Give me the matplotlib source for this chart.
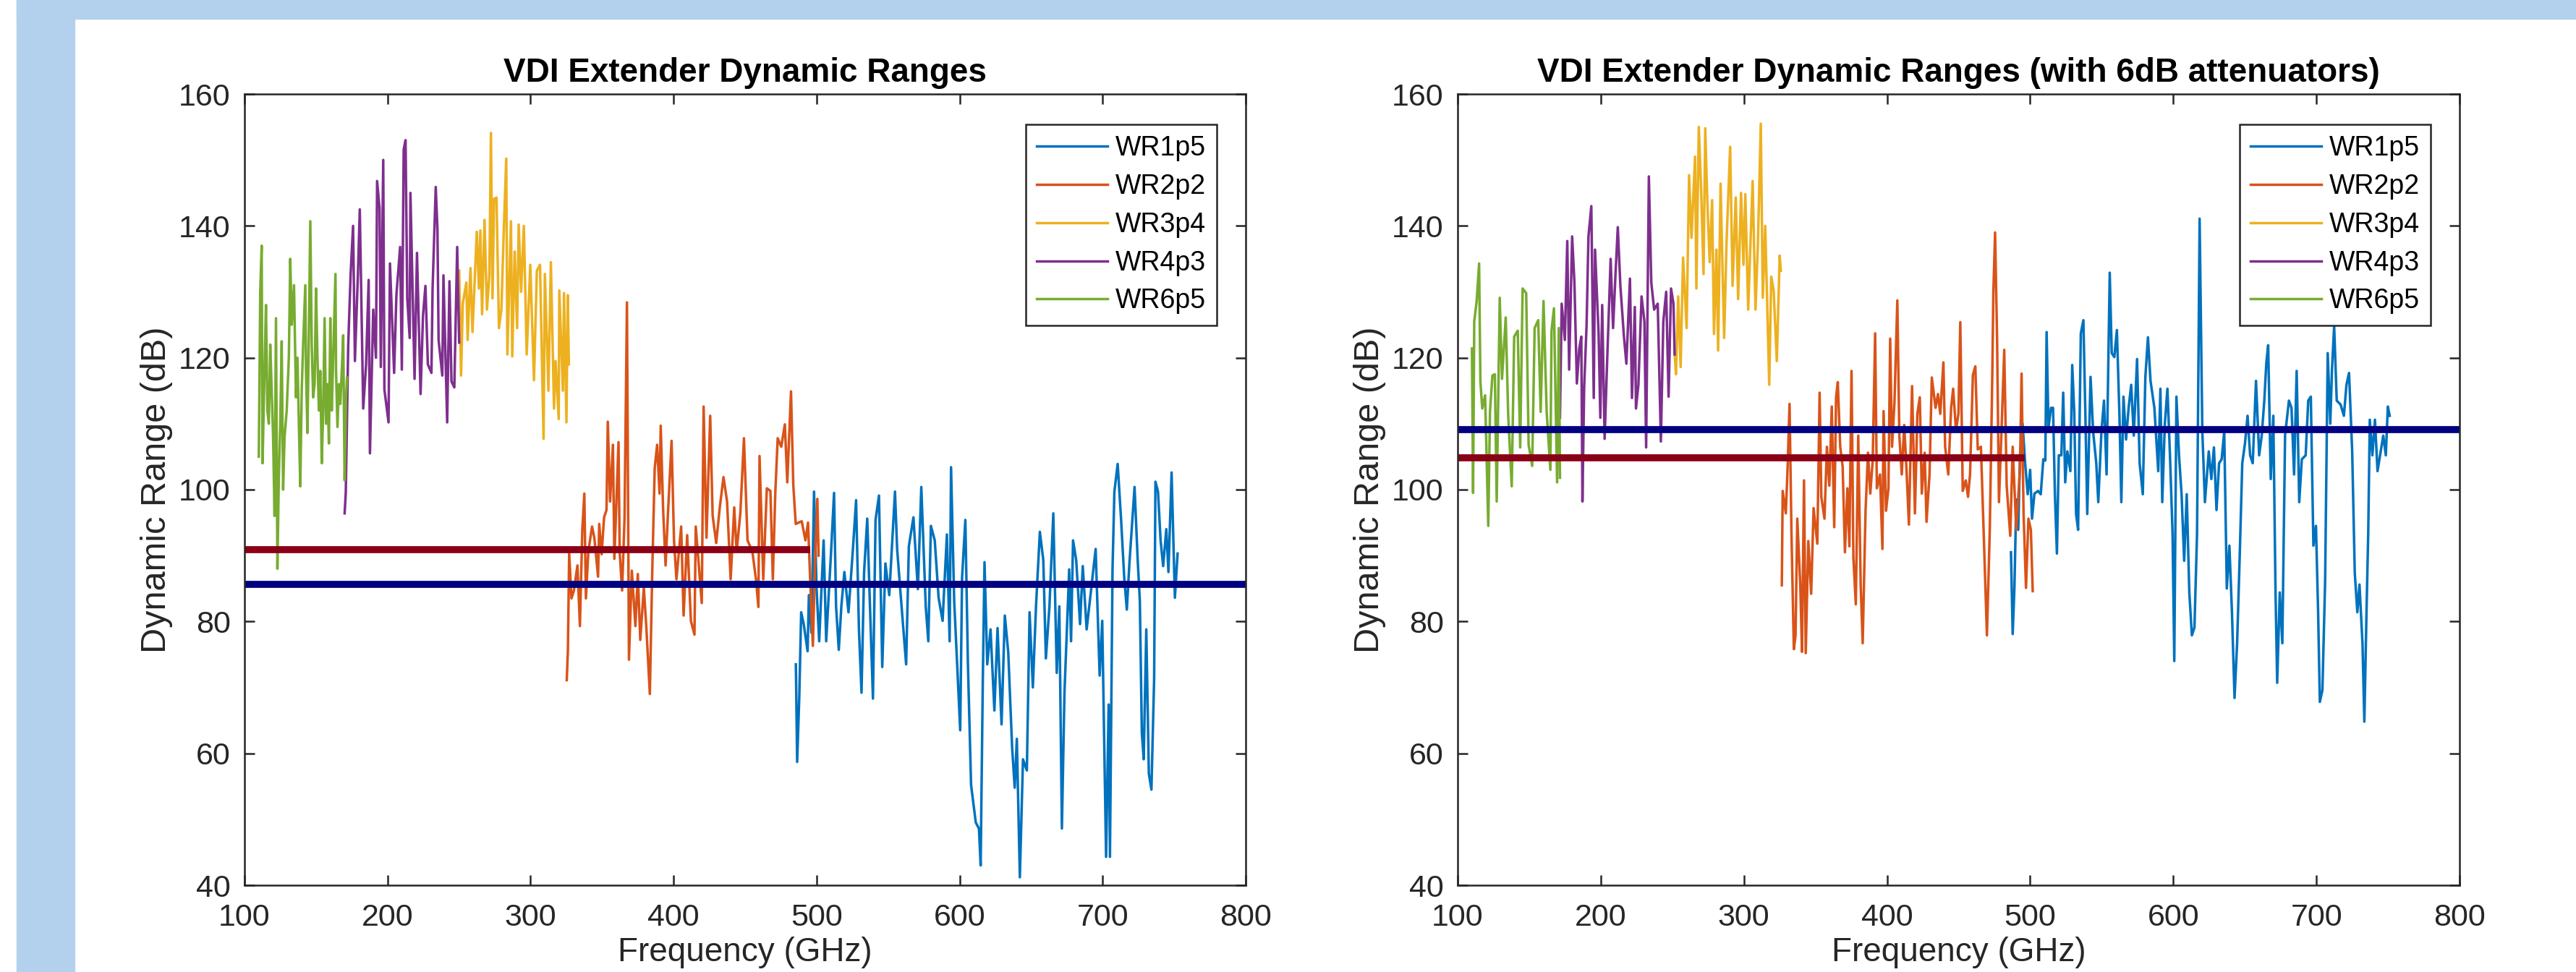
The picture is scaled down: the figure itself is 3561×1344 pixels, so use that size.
import numpy as np
import matplotlib.pyplot as plt
from matplotlib.patches import Rectangle

plt.rcParams['font.family'] = ['Liberation Sans', 'DejaVu Sans']

# ---- left panel: (GHz, dB) ----
wr6p5_a = [(110, 105), (111, 130), (112, 137), (112.6, 104), (114, 118), (115, 128), (116, 112), (117, 110),
           (118, 122), (119, 115), (120, 108), (121, 96), (122, 126), (123, 88), (124, 102), (125, 110),
           (126, 122.5), (127, 100), (128, 108), (129.5, 112), (131, 120), (132, 135), (133, 125), (134.6, 131),
           (136, 114), (137, 120), (138, 110), (139, 100.5), (140, 115), (141, 122), (142.5, 131), (143, 118),
           (144, 108.6), (145, 124), (146, 140.7), (147, 122), (148, 114), (149, 116), (150, 130.5), (151, 120),
           (152, 112), (153, 118), (154, 104), (155, 112), (156, 126), (157, 110), (158, 116), (159, 107),
           (160, 126), (161, 112), (162, 120), (163.6, 132.7), (164, 118), (165, 109.5), (166, 116), (167, 113),
           (168, 118), (169, 123.4), (170, 101.4), (171, 114), (171.7, 117)]

wr4p3_a = [(170, 96.4), (170.8, 99.5), (172.5, 121.8), (174.2, 132.7), (175.9, 140), (177.2, 119.5), (179.3, 132.7),
           (180.6, 142.5), (183, 112.3), (185, 119), (186.8, 131.8), (187.7, 105.5), (190, 127.3), (191.9, 120),
           (192.7, 146.8), (194.4, 142.7), (195.3, 118.6), (197, 150), (197.8, 115.2), (200.7, 110.2),
           (201.7, 134.3), (204.6, 117.7), (206.2, 129.5), (208.8, 136.8), (210, 118.2), (211.3, 151.6),
           (212.6, 153), (213.8, 129), (215.5, 123), (216, 145), (218.9, 116.8), (220.6, 135.9), (223.1, 114.5),
           (224.8, 126.4), (226.5, 130.9), (228.2, 119), (230.7, 117.7), (231.5, 130.5), (233.7, 145.9),
           (234.9, 139.5), (235.7, 122.7), (238.3, 117.3), (239.1, 132.5), (241.7, 110.2), (243.3, 131.6),
           (244.7, 116.4), (246.7, 115.5), (248.7, 136.8), (250.1, 122.3)]

wr3p4_a = [(250.1, 133.2), (251.4, 117.3), (252.6, 128.2), (255.1, 131.4), (256, 122.7), (258, 133.6), (259.4, 123.9),
           (262.4, 139.1), (263.9, 130.5), (264.9, 139.3), (266.1, 126.6), (267.8, 140.9), (269.5, 127.3),
           (271.2, 132.5), (272.3, 154.1), (273.4, 129), (274.5, 144.1), (276.2, 144.3), (277.9, 124.5),
           (279.6, 127.3), (281.3, 139.5), (283, 150.2), (283.8, 120.5), (286.3, 140.7), (287.2, 120.2),
           (288.9, 136.1), (290.6, 124.5), (291.7, 140.2), (293.4, 130), (295.3, 140), (297.3, 120.5),
           (299.8, 134.1), (302.4, 116.6), (304.4, 133.2), (306.6, 134.1), (309.1, 107.7), (310, 132.7),
           (312.5, 115), (314.2, 134.5), (316.4, 112.3), (317.5, 119.5), (319.7, 110.7), (320.1, 130.2),
           (322.6, 115), (323.4, 129.8), (325.1, 110.2), (326, 129.5), (326.8, 119)]

wr2p2_a = [(325.3, 71.1), (326.1, 75.5), (327, 90.4), (328.6, 83.5), (330.3, 84.7), (332.8, 88.5), (334.5, 79.3),
           (336.2, 94), (337.6, 99.4), (338.7, 83.5), (340.4, 90.6), (343, 94.4), (344.6, 92.7), (347.2, 86.8),
           (348, 94.8), (349.7, 90.2), (351.4, 95.8), (353.1, 96.9), (354, 110.3), (355.6, 98.2), (357.6, 106.8),
           (358.6, 89.5), (361.5, 107.2), (362.3, 90.6), (364, 84.7), (365.7, 95.6), (367.4, 128.4), (368.8, 74.2),
           (370.8, 87.7), (373.3, 79.3), (375, 87.2), (376.7, 77.2), (379.2, 85.1), (380.9, 79.3), (383.4, 69),
           (385.1, 87.7), (386.8, 103.2), (388.5, 106.8), (390.2, 99.4), (391, 109.7), (392.7, 96.9), (394.4, 88.5),
           (396.1, 96.5), (398.6, 107.4), (400.3, 92.3), (402, 86.4), (405.3, 94.4), (407, 80.9), (409.5, 93.1),
           (412.1, 80.1), (414.6, 78), (415.5, 94.4), (419.7, 82.8), (421, 112.6), (423, 92.7), (425.6, 111.2),
           (427.3, 96.1), (429.8, 91.9), (432.3, 97.3), (434.9, 101.9), (437.4, 98.2), (439.9, 86.4), (442.4, 97.3),
           (444.1, 90.6), (446.7, 96.5), (449.2, 107.8), (451.7, 92.3), (455.1, 90.6), (457.6, 86.4), (459.3, 82.2),
           (460.1, 105.1), (462.7, 86.4), (465.2, 100.2), (467.7, 99.8), (469.4, 86.4), (471.1, 99.4),
           (472.8, 107.8), (475.3, 106.5), (477.8, 109.9), (479.5, 101.1), (482.1, 114.9), (483.7, 100.7),
           (485.4, 94.8), (489.6, 95.2), (492.2, 92.3), (494, 95), (495.5, 86.4), (497.4, 76.3), (499, 89.8),
           (500.5, 98.6), (501.4, 90)]

wr1p5_a = [(485.5, 73.5), (486.4, 58.7), (487.9, 68.7), (489.2, 81.4), (491, 79.6), (493.7, 75.5), (494.6, 84),
           (496.4, 78.3), (498.2, 99.7), (500, 84.9), (501.8, 77), (504.9, 92.3), (506.7, 77), (510, 90.1),
           (512.2, 99.5), (513.6, 82.3), (515.5, 75.7), (517.3, 82.3), (519.4, 87.5), (522.3, 81.4), (525.4, 91),
           (527.6, 98.4), (529.6, 78.8), (531.4, 69.2), (533.2, 87.5), (535.4, 95.6), (537.2, 83.1), (539.4, 68.3),
           (541.2, 95.4), (543.6, 99.1), (545.9, 73.1), (548.1, 88.8), (550.8, 84), (554.8, 99.7), (556.3, 91),
           (559.4, 82.3), (562.6, 73.5), (564.5, 91.4), (567.7, 95.8), (570.8, 84.9), (573.2, 100.4), (576.3, 82.3),
           (578.1, 77), (579.9, 94.5), (582.6, 92.3), (585.3, 83.6), (588.1, 80.1), (591.1, 93.2), (593, 77),
           (594, 103.4), (596.2, 83.1), (600.4, 63.5), (601.7, 86.6), (604, 95.4), (605.8, 73.5), (608, 55.2),
           (611.3, 49.5), (613.5, 48.6), (614.7, 43), (616.2, 70.9), (617.4, 89), (619.3, 73.5), (621.6, 78.8),
           (624.3, 66.5), (626.5, 79), (629.3, 64.4), (631.6, 80.9), (634, 75.3), (636.7, 60.9), (638.5, 54.8),
           (640, 62.2), (642.1, 41.2), (644.3, 59.1), (647, 57.4), (648.9, 81.4), (651.2, 70), (653.4, 82.3),
           (656.1, 93.6), (658.5, 89.3), (660.3, 74.4), (662.8, 82.3), (665.5, 96.4), (667.9, 72.2), (669.7, 82.3),
           (671.5, 48.6), (673.3, 69.2), (676.6, 87.9), (677.9, 77), (679.3, 92.3), (681.5, 89.3), (684.2, 79.6),
           (686.1, 88.4), (688.8, 78.8), (691.5, 84), (695.1, 91), (697.9, 71.8), (699.7, 80.1), (702.4, 44.3),
           (704.2, 67.4), (705.1, 44.3), (706.9, 87.9), (708.2, 99.7), (710.5, 103.9), (712.9, 95.4), (715.1, 86.6),
           (716.9, 81.8), (718.7, 88.8), (722.3, 100.4), (724.5, 89.3), (726, 83.1), (727.4, 63.1), (728.7, 59.1),
           (730.5, 78.8), (732.3, 56.9), (734.1, 54.5), (736, 71.4), (736.9, 101.2), (738.7, 99.7), (740.5, 92.3),
           (742.3, 88.4), (744.5, 94), (746, 87.5), (748.2, 102.6), (750.5, 83.6), (752.4, 90.3)]

# ---- right panel (with 6dB attenuators) ----
wr6p5_b = [(110, 121.4), (110.8, 99.5), (111.6, 125.5), (113.3, 128.6), (115, 134.3), (115.9, 116.4), (117.2, 112.3),
           (119.2, 114.3), (121.4, 94.5), (122.6, 111.8), (124.3, 117.3), (126, 117.5), (127.3, 98.2), (129.4, 129.1),
           (131, 116.8), (133.6, 126.1), (135.3, 111.4), (137.8, 100.5), (139.5, 123.2), (142, 124.1), (143.7, 106.4),
           (145.4, 130.5), (147.9, 129.8), (149.6, 106.8), (152.1, 103.6), (153.8, 124.5), (156.3, 125.7),
           (158, 111.8), (160, 128.6), (162.2, 111.8), (164.8, 103), (165.6, 124.1), (167.3, 127.5), (169.5, 101.1),
           (170.7, 124.5), (171.5, 101.8)]

wr4p3_b = [(171.5, 110.9), (172.7, 128.2), (174.9, 122.7), (176.6, 137.7), (177.9, 118.2), (180, 138.4), (181.6, 131.4),
           (183.3, 116.1), (185, 121.4), (186.4, 123.2), (187.2, 98.2), (188.4, 115.5), (190.1, 125), (191.4, 138.4),
           (193.4, 143), (195.1, 113.9), (196, 136.4), (198.5, 123.6), (199.7, 110.9), (201, 128), (202.7, 107.7),
           (204.4, 119.1), (206.9, 135), (208.6, 124.5), (210.3, 132.7), (211.9, 139.8), (213.7, 130.9),
           (216.2, 123.2), (217.9, 119.1), (220.4, 132), (221.8, 113.9), (223.8, 127.7), (224.6, 112.3),
           (226.3, 115.9), (228.5, 129.3), (230.5, 125.5), (231.7, 106.4), (233.6, 147.5), (235.3, 131.4),
           (237.3, 127.3), (239.8, 128.2), (242, 107.3), (243.7, 125.5), (245.7, 130), (247.4, 114.1),
           (249.1, 130.5), (250.8, 128.2), (251.6, 120.5)]

wr3p4_b = [(251.6, 120.9), (252.5, 117.5), (254.1, 129.3), (255.8, 118.6), (257.5, 135.2), (260, 124.5), (261.7, 147.7),
           (263.4, 138.2), (265.9, 150.5), (266.8, 130.5), (268.5, 155), (270.2, 145), (271.8, 132.7), (273, 154.8),
           (274.4, 144.1), (276.1, 134.5), (277.8, 143.9), (279.1, 123.6), (280.8, 136.4), (282, 121.1),
           (283.7, 146.4), (286.2, 123), (287.9, 137.7), (290.4, 152), (292.1, 130.9), (294.3, 144.3), (296, 128.9),
           (298, 145), (299.7, 134.1), (301, 144.8), (303, 127.3), (306.1, 146.8), (308.1, 127.3), (309.8, 137.3),
           (311.8, 155.5), (313.2, 129.1), (314.9, 140), (317.7, 115.9), (319.1, 132.3), (320.8, 130.2),
           (323, 119.5), (325, 135.5), (325.8, 133.2)]

wr2p2_b = [(326.5, 85.5), (327.1, 99.8), (329.3, 96.4), (330.5, 103.1), (331.9, 113), (333.2, 93.9), (334.9, 75.8),
           (336.1, 77.9), (337.3, 95.6), (339.4, 85.5), (340.6, 75.4), (342, 101.4), (343.2, 75.2), (345, 92.2),
           (347, 84.2), (348.7, 97.2), (351.3, 91.8), (352.9, 114.7), (354.1, 98.9), (356.3, 95.6), (358, 106.5),
           (359.7, 100.6), (361.4, 112.6), (363.1, 94.3), (364.4, 114), (365.6, 116.3), (367.3, 106.5),
           (369, 103.5), (370.6, 90.5), (372.3, 100.2), (373.7, 91.4), (375.2, 118), (376.5, 89.7), (378.2, 82.6),
           (379.9, 108.2), (381.6, 85.5), (383, 76.7), (385, 96.8), (386.7, 105.6), (388.3, 99.4), (390, 104.4),
           (391.7, 123.7), (392.9, 100.2), (395.1, 102.3), (396.8, 91), (397.6, 111.9), (399.3, 96.8),
           (401, 100.2), (402.2, 122.9), (403.5, 106.5), (405.2, 113.2), (407.2, 128.7), (408.6, 108.2),
           (410.3, 102.3), (412, 109.8), (413.6, 103.1), (415.3, 94.7), (417.5, 115.7), (419.5, 96.4),
           (421.2, 111.5), (422.9, 114), (424.3, 99.4), (426.3, 105.6), (427.6, 95.1), (429.7, 102.3), (431.3, 117),
           (433.9, 112.4), (435.6, 114.5), (437.2, 111.5), (439.4, 119.3), (440.6, 106.5), (442.8, 102.3),
           (444.8, 112.4), (446.2, 115.3), (448.2, 109), (449.9, 111.5), (451.2, 125.4), (452.9, 99.8),
           (455, 101.4), (456.6, 98.9), (458, 102.3), (460, 117.4), (461.7, 118.7), (463.4, 106.1), (465.6, 106.5),
           (467.6, 93), (469.8, 77.9), (471.8, 93.9), (473.5, 116.6), (474.3, 130), (475.5, 139), (476.9, 122.9),
           (478.2, 98.1), (480.2, 110.3), (481.9, 121.2), (483.6, 100.6), (486.1, 93), (487.8, 106.5),
           (490.3, 93.9), (492.9, 103.1), (494, 117.6), (495.4, 96.4), (497.1, 85.1), (498.8, 95.6), (500.5, 93.9),
           (501.8, 84.6)]

wr1p5_b = [(486.6, 90.5), (487.8, 78.1), (489, 85), (490.3, 98.5), (491.7, 93.9), (492.9, 105.2), (494.7, 110),
           (496.5, 104), (498.3, 99.3), (500, 103), (501.3, 95.6), (503, 99.4), (505.5, 99.8), (507.4, 99.3),
           (509.2, 104.6), (510.6, 104.4), (511.5, 123.9), (512.8, 109.4), (514.6, 112.4), (516, 112.4),
           (517.3, 99.3), (518.7, 90.3), (520, 105.2), (521.8, 105.2), (523.1, 114.7), (524.5, 101.1),
           (526, 105.8), (528.1, 102.8), (529.4, 118.9), (530.8, 111.8), (532.1, 96.3), (533.5, 93.9),
           (535.4, 123.7), (537.2, 125.7), (538.6, 111.2), (539.9, 96.3), (542.2, 117.1), (544, 108.8),
           (546.2, 104), (547.6, 98.1), (549.8, 108.8), (551.6, 113.5), (553.4, 102.3), (555.6, 132.9),
           (557, 120.7), (558.8, 120.1), (560.6, 124.2), (562.4, 111.2), (563.7, 98.1), (565.2, 114.1),
           (567, 107.6), (568.8, 112.4), (570.6, 115.9), (572.4, 108.2), (574.7, 119.8), (576.5, 104),
           (578.7, 99.3), (580.5, 117.1), (582.3, 123.1), (584.1, 116.5), (586.8, 112.4), (589.5, 102.8),
           (591, 115.3), (592.3, 98.1), (594.1, 110), (595.9, 115.3), (597.7, 105.2), (599.5, 93.3), (600.7, 74),
           (602.2, 114.1), (604, 105.2), (605.8, 99.3), (607.6, 89.2), (609.4, 99.3), (611.2, 84.4), (613, 77.9),
           (614.8, 79.1), (616.6, 93.3), (618.4, 141.1), (620.3, 108.8), (622.1, 98.1), (624.8, 105.8),
           (626.6, 101.6), (628.4, 106.4), (630.2, 96.9), (632, 104), (633.8, 104.6), (635.6, 108.8), (637.4, 85),
           (639.2, 91.5), (641, 81.4), (642.8, 68.4), (644.6, 76.7), (646.4, 89.8), (648.2, 104), (650.1, 107),
           (651.9, 111.2), (653.7, 105.2), (655.5, 104), (657.8, 116.5), (660, 105.2), (661.8, 108.2),
           (663.6, 113.5), (665, 119.2), (666.3, 121.9), (668.1, 101.6), (669.9, 111.2), (671.4, 85), (672.6, 70.7),
           (674.4, 84.4), (676.2, 76.7), (678.1, 108.2), (680.8, 113.5), (682.6, 112.4), (684.4, 102.3),
           (686.2, 118), (688, 98.1), (689.8, 104.6), (692.5, 105.2), (694.3, 113.5), (696.1, 114.1), (697.9, 91.5),
           (699.7, 94.5), (701.2, 81.4), (702.4, 67.8), (704.2, 69.6), (706.1, 86.2), (707.9, 120.7), (709.7, 110),
           (710.9, 118.3), (712.4, 124.8), (714.2, 113.5), (716.9, 112.9), (719.2, 111.2), (721, 115.9),
           (722.8, 117.7), (725, 105.8), (726.8, 87.4), (728.6, 81.4), (730.1, 85.6), (732.2, 76.7), (733.5, 64.8),
           (735, 81.4), (736.2, 93.3), (737.3, 110.6), (739.1, 105.2), (740.9, 110.6), (742.7, 102.8),
           (744.5, 105.2), (746.7, 108.2), (748.5, 105.2), (749.9, 112.6), (751.2, 111.2)]

# horizontal reference levels: (dB, end GHz)
limit_a = [(90.9, 495.5), (85.6, 800)]
limit_b = [(104.8, 496), (109.1, 800)]

names = ['WR1p5', 'WR2p2', 'WR3p4', 'WR4p3', 'WR6p5']
colors = ['#0072BD', '#D95319', '#EDB120', '#7E2F8E', '#77AC30']
limit_colors = ['#8A0016', '#000080']

W, H = 3562, 1344
fig = plt.figure(figsize=(W / 100, H / 100), dpi=100)
frame = '#B3D1EC'
fig.patches.append(Rectangle((23 / W, 0), 80 / W, 1, transform=fig.transFigure, color=frame, zorder=0))
fig.patches.append(Rectangle((23 / W, 1 - 26 / H), 1, 26 / H, transform=fig.transFigure, color=frame, zorder=0))

ax1 = fig.add_axes([338 / W, 120 / H, 1384 / W, 1094 / H])
ax2 = fig.add_axes([2015 / W, 120 / H, 1385 / W, 1094 / H])


def panel(ax, series, limits, title):
    for pts, name, c in zip(series, names, colors):
        arr = np.array(pts)
        ax.plot(arr[:, 0], arr[:, 1], color=c, lw=2.5, label=name)
    for (lvl, xend), c in zip(limits, limit_colors):
        ax.plot([100, xend], [lvl, lvl], color=c, lw=7, solid_capstyle='butt')
    ax.set_xlim(100, 800)
    ax.set_ylim(40, 160)
    ax.set_xticks(range(100, 801, 100))
    ax.set_yticks(range(40, 161, 20))
    ax.tick_params(direction='in', length=10, width=1.8, top=True, right=True,
                   labelsize=31, colors='#262626')
    ax.tick_params(axis='x', pad=18)
    ax.tick_params(axis='y', pad=14)
    for s in ax.spines.values():
        s.set_linewidth(1.8)
        s.set_color('#262626')
    ax.set_title(title, fontsize=33, fontweight='bold', pad=12)
    ax.set_xlabel('Frequency (GHz)', fontsize=33, color='#262626', labelpad=4)
    ax.set_ylabel('Dynamic Range (dB)', fontsize=35, color='#262626', labelpad=6)
    h, l = ax.get_legend_handles_labels()
    leg = ax.legend(h[:5], l[:5], loc='upper right', bbox_to_anchor=(1 - 40 / 1385, 1 - 42 / 1094),
                    fontsize=27, handlelength=2.6, handletextpad=0.3, labelspacing=0.45,
                    borderpad=0.4, borderaxespad=0, fancybox=False, framealpha=1,
                    edgecolor='#262626')
    leg.get_frame().set_linewidth(1.8)


panel(ax1, [wr1p5_a, wr2p2_a, wr3p4_a, wr4p3_a, wr6p5_a], limit_a, 'VDI Extender Dynamic Ranges')
panel(ax2, [wr1p5_b, wr2p2_b, wr3p4_b, wr4p3_b, wr6p5_b], limit_b,
      'VDI Extender Dynamic Ranges (with 6dB attenuators)')

fig.savefig('out.png', dpi=100)
